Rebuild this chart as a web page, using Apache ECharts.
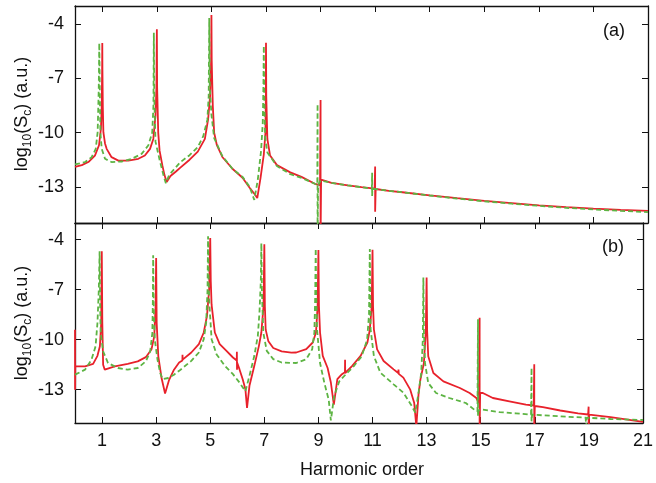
<!DOCTYPE html>
<html><head><meta charset="utf-8">
<script src="https://cdn.jsdelivr.net/npm/echarts@6/dist/echarts.min.js"></script>
<style>html,body{margin:0;padding:0;background:#fff}#c{width:656px;height:483px}</style>
</head><body><div id="c"></div>
<script>
const xTicks = [1,3,5,7,9,11,13,15,17,19,21];
const yTicks = [-13,-10,-7,-4];
const panelLabels = ['(a)','(b)'];
const xTitle = 'Harmonic order';
const yTitle = 'log{s|10}(S{s|c}) (a.u.)';

// panel (a)
const aRed = [[0,-11.9],[0.25,-11.8],[0.49,-11.63],[0.73,-11.27],[0.88,-10.7],[0.95,-9.8],[0.98,-8.5],[0.995,-6.5],[1.0,-5.05],[1.005,-6.5],[1.02,-8.6],[1.04,-9.98],[1.1,-10.6],[1.16,-10.9],[1.34,-11.36],[1.59,-11.55],[1.95,-11.55],[2.32,-11.45],[2.56,-11.27],[2.75,-10.9],[2.87,-10.35],[2.95,-9.07],[2.985,-7.5],[3.0,-4.29],[3.01,-7.5],[3.05,-10.0],[3.1,-11.0],[3.2,-11.8],[3.28,-12.35],[3.36,-12.73],[3.5,-12.4],[3.7,-12.15],[3.85,-11.95],[4.2,-11.5],[4.5,-11.05],[4.76,-10.35],[4.88,-9.25],[4.95,-8.0],[4.99,-6.0],[5.0,-3.5],[5.01,-6.0],[5.05,-8.5],[5.1,-10.0],[5.2,-10.7],[5.4,-11.35],[5.77,-12.0],[6.14,-12.5],[6.4,-13.05],[6.58,-13.4],[6.68,-13.62],[6.8,-12.5],[6.92,-11.2],[6.98,-10.0],[6.995,-8.0],[7.0,-5.03],[7.01,-8.0],[7.05,-10.35],[7.15,-11.27],[7.4,-11.8],[7.89,-12.2],[8.3,-12.45],[8.79,-12.83],[8.98,-12.9],[9.0,-8.2],[9.0,-16],[9.02,-12.6],[9.4,-12.78],[10.0,-12.92],[10.5,-13.02],[10.98,-13.1],[11.0,-11.87],[11.0,-14.38],[11.02,-13.12],[11.5,-13.22],[12,-13.3],[13,-13.47],[14,-13.63],[15,-13.78],[16,-13.9],[17,-14.02],[18,-14.12],[19,-14.2],[20,-14.27],[21,-14.33]];
const aGreen = [[0,-11.76],[0.37,-11.63],[0.61,-11.36],[0.76,-10.9],[0.83,-9.98],[0.87,-7.6],[0.89,-5.05],[0.91,-7.8],[0.93,-10.0],[0.98,-10.9],[1.1,-11.45],[1.34,-11.63],[1.71,-11.6],[2.08,-11.45],[2.44,-11.18],[2.69,-10.7],[2.83,-10.0],[2.875,-8.5],[2.89,-4.48],[2.905,-8.0],[2.95,-10.5],[3.1,-11.5],[3.25,-12.4],[3.33,-12.8],[3.45,-12.35],[3.65,-12.0],[3.85,-11.65],[4.2,-11.25],[4.5,-10.8],[4.7,-10.2],[4.85,-9.3],[4.9,-8.0],[4.92,-3.67],[4.94,-7.5],[5.0,-9.0],[5.1,-10.3],[5.4,-11.3],[5.77,-12.0],[6.14,-12.45],[6.4,-13.0],[6.57,-13.72],[6.7,-12.6],[6.82,-11.0],[6.88,-9.5],[6.905,-7.5],[6.92,-5.21],[6.935,-8.0],[6.97,-10.3],[7.05,-11.1],[7.4,-11.85],[7.89,-12.3],[8.3,-12.5],[8.79,-12.83],[8.88,-12.88],[8.89,-8.42],[8.89,-16],[8.91,-12.9],[9.0,-12.65],[9.4,-12.78],[10.0,-12.92],[10.5,-13.02],[10.88,-13.1],[10.89,-12.22],[10.89,-13.5],[10.9,-13.1],[11.5,-13.22],[12,-13.3],[13,-13.48],[14,-13.65],[15,-13.8],[16,-13.93],[17,-14.05],[18,-14.16],[19,-14.25],[20,-14.33],[21,-14.4]];

// panel (b)
const bRed = [[0,-9.4],[0.003,-13.0],[0.01,-11.6],[0.37,-11.6],[0.67,-11.45],[0.83,-10.97],[0.92,-10.4],[0.97,-9.0],[0.99,-4.7],[1.01,-9.0],[1.04,-11.5],[1.1,-11.8],[1.47,-11.6],[1.95,-11.45],[2.32,-11.3],[2.62,-11.05],[2.83,-10.57],[2.93,-9.8],[2.98,-8.0],[3.0,-5.1],[3.02,-9.0],[3.08,-11.0],[3.2,-12.3],[3.33,-13.23],[3.48,-12.41],[3.66,-11.8],[3.85,-11.37],[3.97,-11.25],[3.975,-10.9],[3.98,-11.2],[4.3,-10.77],[4.58,-10.27],[4.76,-9.57],[4.88,-8.57],[4.96,-7.0],[5.0,-3.9],[5.02,-6.5],[5.05,-7.9],[5.17,-9.57],[5.35,-10.27],[5.6,-10.67],[5.84,-11.07],[5.98,-11.25],[5.985,-10.73],[5.99,-11.8],[6.0,-11.4],[6.08,-11.77],[6.2,-12.37],[6.3,-12.97],[6.36,-14.1],[6.45,-12.77],[6.63,-11.57],[6.8,-10.37],[6.89,-9.57],[6.97,-8.0],[7.0,-4.28],[7.02,-8.0],[7.05,-9.4],[7.15,-10.1],[7.33,-10.5],[7.64,-10.7],[8.0,-10.78],[8.18,-10.77],[8.55,-10.57],[8.79,-10.17],[8.91,-9.57],[8.97,-8.0],[9.0,-4.62],[9.02,-8.0],[9.06,-9.57],[9.16,-10.97],[9.34,-11.7],[9.46,-12.57],[9.57,-13.9],[9.7,-12.37],[9.87,-12.07],[9.98,-11.95],[9.985,-11.2],[9.99,-12.0],[10.0,-11.9],[10.25,-11.57],[10.56,-10.97],[10.81,-10.17],[10.9,-9.4],[10.97,-8.0],[11.0,-4.6],[11.02,-8.0],[11.05,-9.38],[11.17,-10.58],[11.41,-11.28],[11.78,-11.78],[11.95,-12.0],[11.96,-11.8],[11.97,-12.05],[12.14,-12.28],[12.39,-12.98],[12.54,-13.78],[12.62,-15.2],[12.7,-13.3],[12.77,-12.4],[12.9,-11.4],[12.97,-9.5],[13.0,-6.27],[13.02,-9.5],[13.06,-11.0],[13.25,-12.0],[13.62,-12.5],[14.23,-12.9],[14.59,-13.2],[14.84,-13.5],[14.93,-13.8],[14.96,-8.68],[14.96,-15.5],[14.98,-13.2],[15.08,-13.2],[15.45,-13.5],[16.06,-13.7],[16.67,-13.9],[16.96,-13.95],[16.98,-11.48],[16.98,-15.5],[17.0,-13.98],[17.3,-14.05],[17.94,-14.25],[18.6,-14.42],[18.97,-14.49],[18.99,-14.02],[18.99,-15.5],[19.01,-14.5],[19.8,-14.65],[21,-14.93]];
const bGreen = [[0,-12.1],[0.37,-11.8],[0.61,-11.2],[0.76,-10.4],[0.83,-9.0],[0.88,-7.0],[0.91,-4.7],[0.93,-8.0],[0.95,-9.6],[1.04,-10.7],[1.22,-11.4],[1.59,-11.7],[1.95,-11.8],[2.32,-11.7],[2.62,-11.3],[2.78,-10.7],[2.86,-9.6],[2.88,-7.5],[2.89,-4.93],[2.91,-8.0],[2.95,-10.0],[3.05,-11.2],[3.15,-12.0],[3.24,-12.37],[3.3,-12.4],[3.45,-12.3],[3.66,-12.1],[3.85,-11.87],[4.3,-11.27],[4.58,-10.77],[4.76,-9.97],[4.85,-8.97],[4.9,-7.0],[4.92,-3.8],[4.94,-6.5],[4.97,-7.9],[5.05,-9.97],[5.23,-10.87],[5.54,-11.57],[5.84,-12.07],[6.08,-12.57],[6.3,-13.1],[6.45,-12.17],[6.63,-10.97],[6.76,-9.77],[6.82,-8.37],[6.87,-6.5],[6.89,-4.22],[6.91,-7.0],[6.96,-9.57],[7.09,-10.67],[7.33,-11.17],[7.64,-11.37],[8.18,-11.4],[8.55,-11.17],[8.77,-10.57],[8.85,-9.57],[8.88,-7.5],[8.9,-4.53],[8.92,-7.5],[8.95,-9.4],[9.06,-11.4],[9.22,-12.6],[9.38,-13.6],[9.46,-14.85],[9.58,-13.4],[9.77,-12.5],[10.0,-12.1],[10.3,-11.6],[10.6,-11.0],[10.8,-10.0],[10.87,-8.5],[10.9,-4.56],[10.92,-8.0],[10.93,-9.38],[11.05,-10.98],[11.29,-11.98],[11.78,-12.68],[12.14,-13.18],[12.45,-13.98],[12.58,-14.38],[12.7,-13.2],[12.8,-12.0],[12.86,-10.0],[12.88,-6.27],[12.9,-9.5],[12.94,-11.4],[13.06,-12.6],[13.35,-13.2],[13.84,-13.5],[14.45,-13.8],[14.76,-14.2],[14.88,-14.3],[14.9,-8.78],[14.9,-14.6],[14.92,-14.25],[15.08,-14.2],[15.7,-14.35],[16.3,-14.42],[16.86,-14.5],[16.88,-11.69],[16.88,-14.9],[16.9,-14.5],[17.94,-14.6],[18.88,-14.68],[18.9,-15.2],[18.92,-14.68],[19.8,-14.76],[21,-14.82]];

const RED = '#e8212b', GREEN = '#5db443', INK = '#111';
const FONT = 'Liberation Sans';

function xAx(g, pos, lab){
  return {type:'value', gridIndex:g, min:0, max:21, position:pos,
    axisLine:{show:true, onZero:false, lineStyle:{color:INK, width:1.3}},
    axisTick:{show:true, inside:true, length:6, customValues:xTicks, lineStyle:{color:INK, width:1}},
    axisLabel:{show:lab, customValues:xTicks, fontSize:18, fontFamily:FONT, color:INK, margin:9},
    splitLine:{show:false}};
}
function yAx(g, pos, lab){
  return {type:'value', gridIndex:g, min:-15, max:-3, position:pos,
    axisLine:{show:true, onZero:false, lineStyle:{color:INK, width:1.3}},
    axisTick:{show:true, inside:true, length:6, customValues:yTicks, lineStyle:{color:INK, width:1}},
    axisLabel:{show:lab, customValues:yTicks, fontSize:18, fontFamily:FONT, color:INK, margin:11},
    splitLine:{show:false}};
}
function ser(data, xi, yi, color, dashed){
  return {type:'line', xAxisIndex:xi, yAxisIndex:yi, data:data, showSymbol:false, symbol:'none',
    clip:true, silent:true, animation:false,
    lineStyle:{color:color, width:1.8, type: dashed ? [5,3] : 'solid'}};
}
const yLabStyle = (y) => ({type:'text', x:22, y:y, rotation:Math.PI/2,
  style:{text:yTitle, fontSize:18, fontFamily:FONT, fill:INK, align:'center', verticalAlign:'middle', lineHeight:24,
    rich:{s:{fontSize:12, fontFamily:FONT, fill:INK, verticalAlign:'bottom', lineHeight:24}}}});

const chart = echarts.init(document.getElementById('c'), null, {renderer:'canvas'});
chart.setOption({
  animation:false, backgroundColor:'#fff',
  grid:[{left:75, top:6, width:573, height:217},{left:75, top:223, width:573, height:200}],
  xAxis:[xAx(0,'bottom',false), xAx(0,'top',false), xAx(1,'bottom',true), xAx(1,'top',false)],
  yAxis:[yAx(0,'left',true), yAx(0,'right',false), yAx(1,'left',true), yAx(1,'right',false)],
  series:[ser(aRed,0,0,RED,false), ser(aGreen,0,0,GREEN,true), ser(bRed,2,2,RED,false), ser(bGreen,2,2,GREEN,true)],
  graphic:[
    yLabStyle(114), yLabStyle(323),
    {type:'text', x:614, y:31, style:{text:panelLabels[0], fontSize:18, fontFamily:FONT, fill:INK, align:'center', verticalAlign:'middle'}},
    {type:'text', x:613, y:247, style:{text:panelLabels[1], fontSize:18, fontFamily:FONT, fill:INK, align:'center', verticalAlign:'middle'}},
    {type:'text', x:362, y:470, style:{text:xTitle, fontSize:18, fontFamily:FONT, fill:INK, align:'center', verticalAlign:'middle'}}
  ]
});
</script></body></html>
